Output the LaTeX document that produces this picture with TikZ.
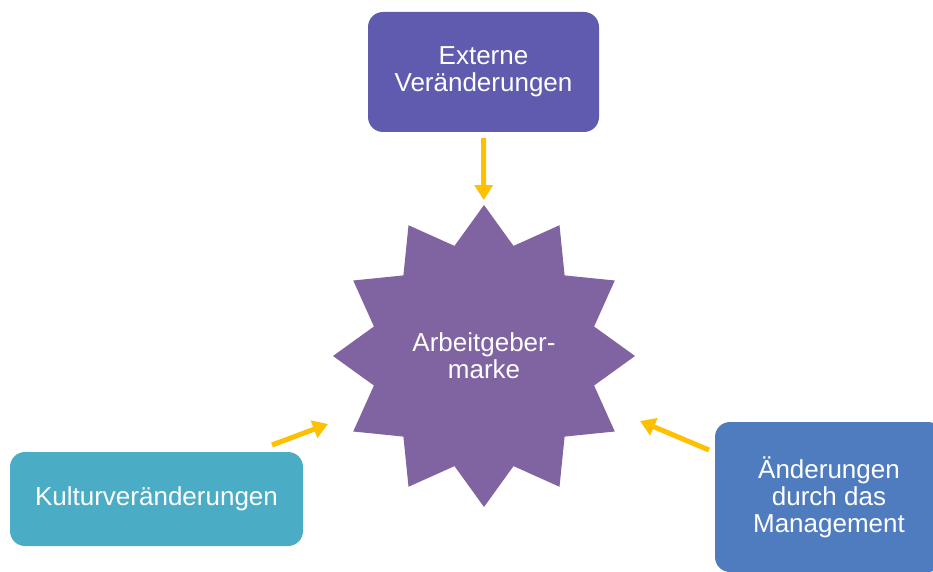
\documentclass[tikz,border=0pt]{standalone}
\usepackage{fontspec}
\setmainfont{Liberation Sans}
\usetikzlibrary{shapes.geometric,arrows.meta}
\definecolor{extcol}{HTML}{5F5BAE}
\definecolor{starcol}{HTML}{8064A2}
\definecolor{kulcol}{HTML}{4BACC6}
\definecolor{mgmtcol}{HTML}{4F7CBE}
\definecolor{arrcol}{HTML}{FFC000}
\begin{document}
\begin{tikzpicture}[x=1pt,y=-1pt,
  box/.style={rectangle, rounded corners=15pt, fill=#1, draw=none,
    text=white, align=center, inner sep=0pt,
    font=\fontsize{26}{27}\selectfont},
  burst/.style={star, star points=12, star point ratio=1.325,
    minimum size=302pt, inner sep=0pt, fill=starcol, draw=none,
    text=white, align=center, font=\fontsize{26}{27}\selectfont},
  arr/.style={draw=arrcol, line width=5pt,
    -{Triangle[length=15pt,width=18pt]}}]
  \useasboundingbox (0,0) rectangle (933,572);
  \clip (0,0) rectangle (933,572);

  % central star
  \node[burst] (marke) at (484,356) {Arbeitgeber-\\marke};

  % the three sources of change
  \node[box=extcol, minimum width=231pt, minimum height=120pt]
    (ext) at (483.5,72) {Externe\\Veränderungen};
  \node[box=kulcol, minimum width=293pt, minimum height=94pt]
    (kultur) at (156.5,499) {Kulturveränderungen};
  \node[box=mgmtcol, minimum width=228pt, minimum height=150pt]
    (mgmt) at (829,497) {Änderungen\\durch das\\Management};

  % arrow ends
  \coordinate (kulturtail) at (272,445);
  \coordinate (kulturtip) at (328,424);
  \coordinate (mgmttail) at (709,450);
  \coordinate (mgmttip) at (640,421);

  % arrows into the star
  \draw[arr, shorten <=6pt, shorten >=5pt] (ext) -- (marke);
  \draw[arr] (kulturtail) -- (kulturtip);
  \draw[arr] (mgmttail) -- (mgmttip);
\end{tikzpicture}
\end{document}
